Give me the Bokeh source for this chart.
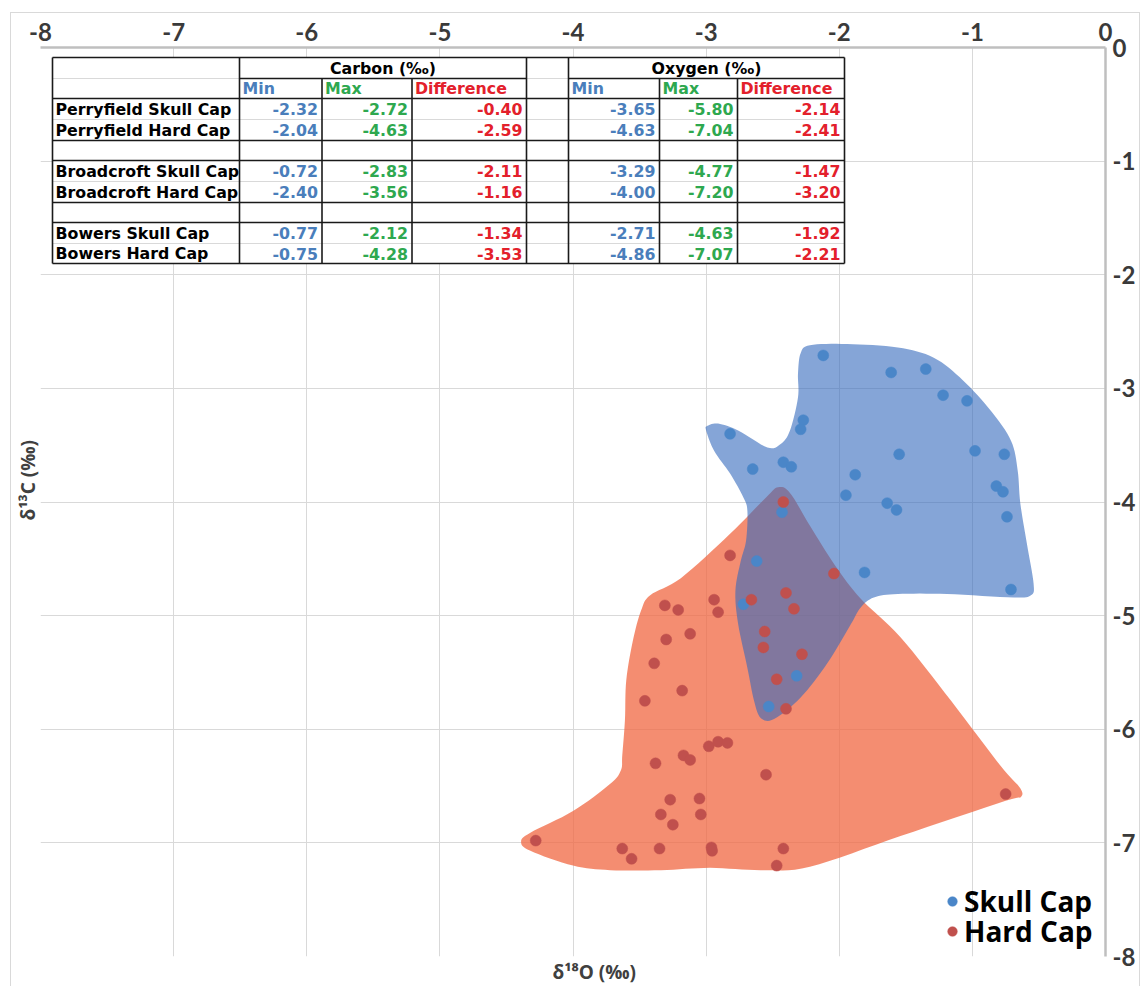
import numpy as np
from bokeh.plotting import figure
from bokeh.models import Range1d, FixedTicker, Title, Legend, LegendItem
from bokeh.core.properties import value
from bokeh.embed import file_html
from bokeh.resources import INLINE

# ---------------------------------------------------------------- data
# Skull Cap samples: d18O (x) and d13C (y), per mil
skull_d18o = [-2.12, -1.61, -1.35, -1.22, -1.04, -2.82, -2.27, -2.29, -2.65, -2.42,
              -2.36, -1.55, -0.98, -0.76, -1.88, -1.95, -1.64, -1.57, -0.82, -0.77,
              -0.74, -2.43, -2.62, -1.81, -0.71, -2.72, -2.32, -2.53]
skull_d13c = [-2.71, -2.86, -2.83, -3.06, -3.11, -3.40, -3.28, -3.36, -3.71, -3.65,
              -3.69, -3.58, -3.55, -3.58, -3.76, -3.94, -4.01, -4.07, -3.86, -3.91,
              -4.13, -4.09, -4.52, -4.62, -4.77, -4.90, -5.53, -5.80]

# Hard Cap samples
hard_d18o = [-2.42, -2.82, -2.04, -2.94, -2.66, -2.40, -2.34, -2.91, -3.31, -3.21,
             -3.12, -3.30, -2.56, -2.57, -2.28, -3.39, -2.47, -3.18, -3.46, -2.40,
             -2.98, -2.91, -2.84, -3.17, -3.12, -3.38, -2.55, -3.27, -3.05, -3.25,
             -3.04, -3.34, -3.63, -3.56, -3.35, -2.96, -2.955, -2.42, -2.47, -4.28,
             -0.75]
hard_d13c = [-4.00, -4.47, -4.63, -4.86, -4.86, -4.80, -4.94, -4.97, -4.91, -4.95,
             -5.16, -5.21, -5.14, -5.28, -5.34, -5.42, -5.56, -5.66, -5.75, -5.82,
             -6.15, -6.11, -6.12, -6.23, -6.27, -6.30, -6.40, -6.62, -6.61, -6.84,
             -6.75, -6.75, -7.05, -7.14, -7.05, -7.04, -7.07, -7.05, -7.20, -6.98,
             -6.57]

# envelopes drawn around each group
skull_env_x = [-2.22, -1.94, -1.56, -1.29, -1.07, -0.86, -0.71, -0.66, -0.64, -0.59,
               -0.54, -0.56, -0.69, -1.19, -1.56, -1.74, -1.84, -1.91, -2.09, -2.29,
               -2.49, -2.59, -2.64, -2.69, -2.76, -2.78, -2.74, -2.70, -2.69, -2.72,
               -2.82, -2.94, -3.00, -2.99, -2.91, -2.76, -2.54, -2.44, -2.37, -2.31,
               -2.31, -2.29]
skull_env_y = [-2.62, -2.61, -2.64, -2.73, -2.93, -3.20, -3.46, -3.72, -4.01, -4.37,
               -4.72, -4.82, -4.84, -4.81, -4.81, -4.84, -4.93, -5.07, -5.42, -5.72,
               -5.91, -5.90, -5.75, -5.46, -5.07, -4.78, -4.52, -4.34, -4.08, -3.96,
               -3.75, -3.55, -3.37, -3.33, -3.31, -3.37, -3.52, -3.49, -3.37, -3.08,
               -2.87, -2.69]
hard_env_x = [-2.46, -2.37, -2.22, -2.03, -1.84, -1.54, -1.16, -0.79, -0.64, -0.64,
              -0.75, -1.54, -2.22, -2.59, -2.97, -3.34, -3.72, -4.00, -4.32, -4.39,
              -4.32, -4.00, -3.72, -3.64, -3.63, -3.61, -3.60, -3.55, -3.49, -3.42,
              -3.19, -2.82, -2.55]
hard_env_y = [-3.87, -3.92, -4.21, -4.56, -4.85, -5.19, -5.75, -6.32, -6.52, -6.60,
              -6.63, -6.94, -7.21, -7.24, -7.22, -7.24, -7.24, -7.20, -7.07, -6.99,
              -6.91, -6.72, -6.48, -6.36, -6.23, -5.92, -5.57, -5.22, -4.96, -4.82,
              -4.67, -4.28, -3.96]

axis_ticks = [-8, -7, -6, -5, -4, -3, -2, -1, 0]

# summary table
sample_groups = ["Perryfield Skull Cap", "Perryfield Hard Cap",
                 "Broadcroft Skull Cap", "Broadcroft Hard Cap",
                 "Bowers Skull Cap", "Bowers Hard Cap"]
carbon_min = [-2.32, -2.04, -0.72, -2.40, -0.77, -0.75]
carbon_max = [-2.72, -4.63, -2.83, -3.56, -2.12, -4.28]
carbon_diff = [-0.40, -2.59, -2.11, -1.16, -1.34, -3.53]
oxygen_min = [-3.65, -4.63, -3.29, -4.00, -2.71, -4.86]
oxygen_max = [-5.80, -7.04, -4.77, -7.20, -4.63, -7.07]
oxygen_diff = [-2.14, -2.41, -1.47, -3.20, -1.92, -2.21]

# ---------------------------------------------------------------- styling
BLUE_FILL, BLUE_DOT = "#3469bc", "#4a86c8"
ORANGE_FILL, RED_DOT = "#f06742", "#c0504d"
TXT_BLUE, TXT_GREEN, TXT_RED = "#4a7ebb", "#2ea84f", "#e3202b"

W, H = 1130, 974
BL, BT, BR, BB = 29, 34, 36, 31
FW, FH = W - BL - BR, H - BT - BB


def sx(px):
    """pixel offset from the frame's left edge -> data x"""
    return -8 + px * 8 / FW


def sy(py):
    """pixel offset from the frame's top edge -> data y"""
    return -py * 8 / FH


def smooth_closed(xs, ys, n=8):
    """closed Catmull-Rom curve through the outline vertices"""
    pts = np.column_stack([xs, ys])
    m = len(pts)
    out = []
    for i in range(m):
        p0, p1, p2, p3 = pts[(i - 1) % m], pts[i], pts[(i + 1) % m], pts[(i + 2) % m]
        for t in np.linspace(0, 1, n, endpoint=False):
            t2, t3 = t * t, t * t * t
            out.append(0.5 * (2 * p1 + (-p0 + p2) * t
                              + (2 * p0 - 5 * p1 + 4 * p2 - p3) * t2
                              + (-p0 + 3 * p1 - 3 * p2 + p3) * t3))
    out = np.array(out)
    return out[:, 0], out[:, 1]


p = figure(width=W, height=H, x_range=Range1d(-8, 0), y_range=Range1d(-8, 0),
           x_axis_location="above", y_axis_location="right",
           output_backend="svg", toolbar_location=None,
           min_border_left=BL, min_border_top=BT, min_border_right=BR,
           min_border_bottom=BB, outline_line_color=None,
           background_fill_color="white", border_fill_color="white")
p.margin = (12, 0, 0, 10)
p.styles = {"border-top": "1px solid #d9d9d9", "border-left": "1px solid #d9d9d9",
            "border-right": "1px solid #d9d9d9"}

for ax in (p.xaxis[0], p.yaxis[0]):
    ax.ticker = FixedTicker(ticks=axis_ticks)
    ax.major_label_overrides = {t: str(t) for t in axis_ticks}
    ax.major_tick_line_color = None
    ax.minor_tick_line_color = None
    ax.major_tick_out = 0
    ax.major_tick_in = 0
    ax.axis_line_color = "#bfbfbf"
    ax.axis_line_width = 2.5
    ax.major_label_text_font = "Lato"
    ax.major_label_text_font_style = "bold"
    ax.major_label_text_font_size = "24px"
    ax.major_label_text_color = "#3a3a3a"
    ax.major_label_standoff = 7

for g in (p.xgrid[0], p.ygrid[0]):
    g.ticker = FixedTicker(ticks=axis_ticks)
    g.grid_line_color = "#d9d9d9"
    g.grid_line_width = 1

# axis titles
TITLE_STYLE = dict(text_font="Open Sans", text_font_style="bold",
                   text_font_size="19px", text_color="#404040",
                   align="left", standoff=0)
p.add_layout(Title(text="δ¹⁸O (‰)", offset=512, **TITLE_STYLE), "below")
p.add_layout(Title(text="δ¹³C (‰)", offset=436, **TITLE_STYLE), "left")

# envelopes
hx, hy = smooth_closed(hard_env_x, hard_env_y)
p.patch(hx, hy, fill_color=ORANGE_FILL, fill_alpha=0.75, line_color=None)
bx, by = smooth_closed(skull_env_x, skull_env_y)
p.patch(bx, by, fill_color=BLUE_FILL, fill_alpha=0.6, line_color=None)

# samples
r_skull = p.scatter(skull_d18o, skull_d13c, size=11, fill_color=BLUE_DOT,
                    line_color=BLUE_DOT, line_width=0.5)
r_hard = p.scatter(hard_d18o, hard_d13c, size=11, fill_color=RED_DOT,
                   line_color=RED_DOT, line_width=0.5)

# legend: one entry per box so the two rows can sit close together
LEGEND_STYLE = dict(orientation="vertical", background_fill_alpha=0,
                    border_line_color=None, padding=0, margin=0,
                    glyph_width=24, glyph_height=26, label_standoff=0,
                    label_text_font="Open Sans", label_text_font_style="bold",
                    label_text_font_size="28px", label_text_color="black")
p.add_layout(Legend(items=[LegendItem(label="Skull Cap", renderers=[r_skull])],
                    location=(900, 36), **LEGEND_STYLE))
p.add_layout(Legend(items=[LegendItem(label="Hard Cap", renderers=[r_hard])],
                    location=(900, 6), **LEGEND_STYLE))

# ---------------------------------------------------------------- table
col_px = [12, 199, 281.5, 371.5, 486, 528, 619, 697, 804]
row_px = [10, 31, 51, 72, 93, 113, 134, 155, 175, 196, 216]
data_rows = [2, 3, 5, 6, 8, 9]

p.quad(left=sx(col_px[0]), right=sx(col_px[-1]), top=sy(row_px[0]),
       bottom=sy(row_px[-1]), fill_color="white", line_color=None)

# light cell gridlines
fx0, fx1, fy0, fy1 = [], [], [], []
for r in (1, 3, 6, 9):
    fx0.append(sx(col_px[0])); fx1.append(sx(col_px[-1]))
    fy0.append(sy(row_px[r])); fy1.append(sy(row_px[r]))
p.segment(fx0, fy0, fx1, fy1, line_color="#d9d9d9", line_width=1)

# black borders
bx0, bx1, by0, by1 = [], [], [], []
for r in (0, 2, 4, 5, 7, 8, 10):
    bx0.append(sx(col_px[0])); bx1.append(sx(col_px[-1]))
    by0.append(sy(row_px[r])); by1.append(sy(row_px[r]))
for c0, c1 in ((1, 4), (5, 8)):
    bx0.append(sx(col_px[c0])); bx1.append(sx(col_px[c1]))
    by0.append(sy(row_px[1])); by1.append(sy(row_px[1]))
for c in range(len(col_px)):
    top_row = 1 if c in (2, 3, 6, 7) else 0
    bx0.append(sx(col_px[c])); bx1.append(sx(col_px[c]))
    by0.append(sy(row_px[top_row])); by1.append(sy(row_px[-1]))
p.segment(bx0, by0, bx1, by1, line_color="#1a1a1a", line_width=1.6)


def row_mid(r):
    return sy((row_px[r] + row_px[r + 1]) / 2)


TABLE_FONT = dict(text_font=value("DejaVu Sans"), text_font_style="bold",
                  text_font_size="15.8px", text_baseline="middle")

# header row 1
p.text(x=[sx((col_px[1] + col_px[4]) / 2), sx((col_px[5] + col_px[8]) / 2)],
       y=[row_mid(0)] * 2, text=["Carbon (‰)", "Oxygen (‰)"],
       text_align="center", text_color="black", **TABLE_FONT)

# header row 2
hdr_x, hdr_t, hdr_c = [], [], []
for start in (1, 5):
    for k, (name, col) in enumerate((("Min", TXT_BLUE), ("Max", TXT_GREEN),
                                     ("Difference", TXT_RED))):
        hdr_x.append(sx(col_px[start + k] + 3))
        hdr_t.append(name)
        hdr_c.append(col)
p.text(x=hdr_x, y=[row_mid(1)] * len(hdr_x), text=hdr_t, text_color=hdr_c,
       text_align="left", **TABLE_FONT)

# row labels
p.text(x=[sx(col_px[0] + 3)] * len(sample_groups),
       y=[row_mid(r) for r in data_rows], text=sample_groups,
       text_align="left", text_color="black", **TABLE_FONT)

# values
vx, vy, vt, vc = [], [], [], []
columns = [(carbon_min, 2, TXT_BLUE), (carbon_max, 3, TXT_GREEN),
           (carbon_diff, 4, TXT_RED), (oxygen_min, 6, TXT_BLUE),
           (oxygen_max, 7, TXT_GREEN), (oxygen_diff, 8, TXT_RED)]
for vals, right_col, colr in columns:
    for v, r in zip(vals, data_rows):
        vx.append(sx(col_px[right_col] - 4))
        vy.append(row_mid(r))
        vt.append(f"{v:.2f}")
        vc.append(colr)
p.text(x=vx, y=vy, text=vt, text_color=vc, text_align="right", **TABLE_FONT)

open("out.html", "w").write(file_html(p, INLINE))
